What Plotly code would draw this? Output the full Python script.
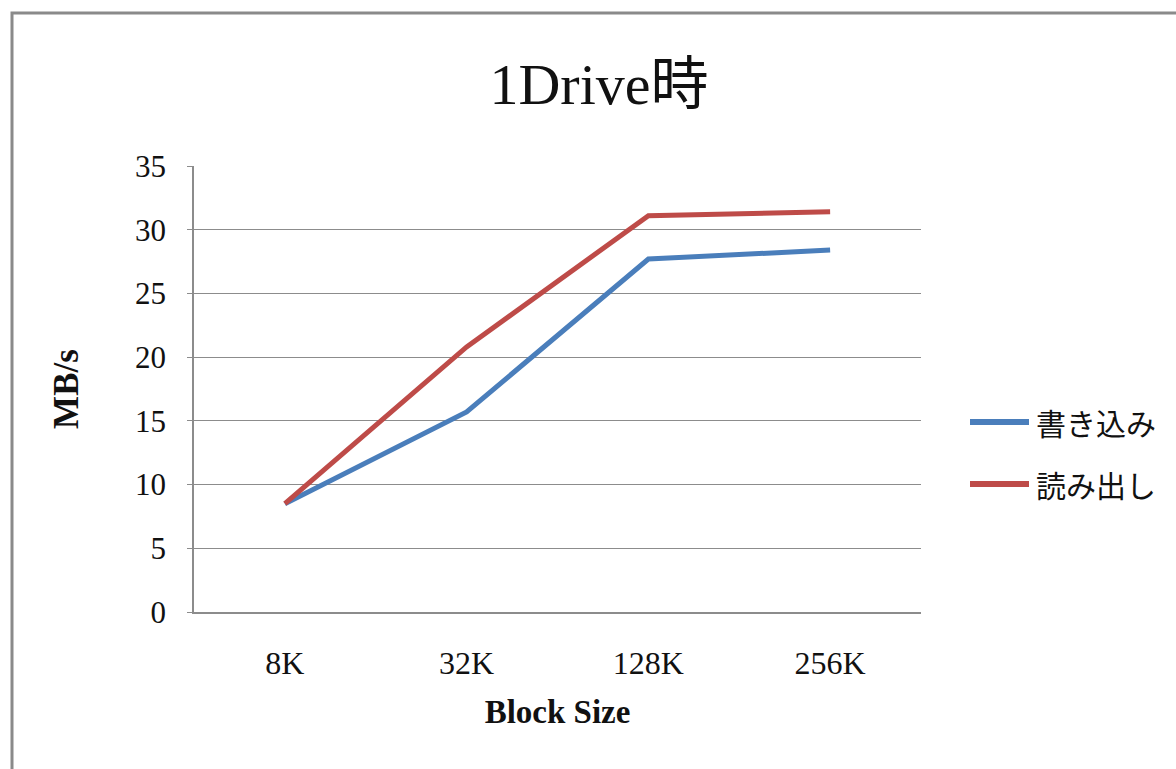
import plotly.graph_objects as go

# Throughput by block size, single drive
block_sizes = ["8K", "32K", "128K", "256K"]
write_mbps = [8.5, 15.7, 27.7, 28.4]
read_mbps = [8.5, 20.8, 31.1, 31.4]

series_names = ["書き込み", "読み出し"]
series_values = [write_mbps, read_mbps]
series_colors = ["#4A7EBB", "#BE4B48"]

y_ticks = [0, 5, 10, 15, 20, 25, 30, 35]

SERIF = "Liberation Serif, Times New Roman, Noto Sans CJK JP, serif"
CJK = "Noto Sans CJK JP, sans-serif"

fig = go.Figure()
for name, vals, color in zip(series_names, series_values, series_colors):
    fig.add_trace(go.Scatter(
        x=block_sizes, y=vals, name=name, mode="lines",
        line=dict(color=color, width=5),
        showlegend=False,
    ))

W, H = 1176, 769
L, R, T, B = 194, 255, 166, 157
pw, ph = W - L - R, H - T - B

def px_x(x):
    return (x - L) / pw

def px_y(y):
    return (H - B - y) / ph

shapes = [
    # outer chart frame (runs off the right/bottom edge of the page)
    dict(type="rect", xref="paper", yref="paper",
         x0=px_x(12), x1=px_x(1200), y0=px_y(800), y1=px_y(13),
         line=dict(color="#8A8A8A", width=3), layer="below"),
]
annotations = []

# legend drawn as line swatches with labels
for i, (name, color) in enumerate(zip(series_names, series_colors)):
    yc = px_y(422 + 62 * i)
    shapes.append(dict(type="line", xref="paper", yref="paper",
                       x0=px_x(970), x1=px_x(1029), y0=yc, y1=yc,
                       line=dict(color=color, width=6)))
    annotations.append(dict(xref="paper", yref="paper", x=px_x(1034), y=yc,
                            xanchor="left", yanchor="middle", showarrow=False,
                            text=name, font=dict(family=CJK, size=30, color="#111")))

fig.update_layout(
    width=W, height=H,
    margin=dict(l=L, r=R, t=T, b=B, pad=0),
    paper_bgcolor="white", plot_bgcolor="white",
    title=dict(text="1Drive時", x=599 / W, xref="container", xanchor="center",
               y=1 - 84 / H, yref="container", yanchor="middle",
               font=dict(family=SERIF, size=58, color="#111")),
    xaxis=dict(
        type="category", range=[-0.5, 3.5],
        showgrid=False, showline=True, linecolor="#8C8C8C", linewidth=1.5,
        ticks="", ticklabelstandoff=22,
        tickfont=dict(family=SERIF, size=32, color="#111"),
        title=dict(text="<b>Block Size</b>", standoff=20,
                   font=dict(family=SERIF, size=33, color="#111")),
        fixedrange=True,
    ),
    yaxis=dict(
        range=[0, 35], tickvals=y_ticks,
        showgrid=True, gridcolor="#8C8C8C", gridwidth=1.2,
        showline=True, linecolor="#8C8C8C", linewidth=1.5,
        ticks="outside", ticklen=5, tickcolor="#8C8C8C",
        ticklabelstandoff=15, zeroline=False,
        tickfont=dict(family=SERIF, size=31, color="#111"),
        title=dict(text="<b>MB/s</b>", standoff=46,
                   font=dict(family=SERIF, size=35, color="#111")),
        fixedrange=True,
    ),
    shapes=shapes,
    annotations=annotations,
    showlegend=False,
)

fig.write_html("out.html")
